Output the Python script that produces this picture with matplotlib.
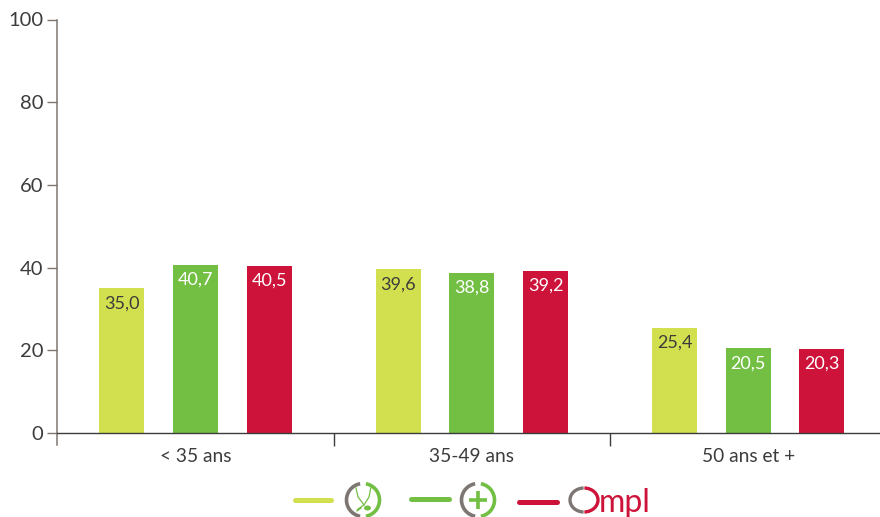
import numpy as np
import matplotlib
matplotlib.use('Agg')
import matplotlib.pyplot as plt
from matplotlib.patches import Arc, Ellipse

plt.rcParams['font.family'] = ['Lato', 'DejaVu Sans']

categories = ['< 35 ans', '35-49 ans', '50 ans et +']
series_1 = [35.0, 39.6, 25.4]
series_2 = [40.7, 38.8, 20.5]
series_3 = [40.5, 39.2, 20.3]
yticks = [0, 20, 40, 60, 80, 100]

LIME = '#d2df4e'
GREEN = '#72bf44'
RED = '#cd1339'
GREY = '#7d7672'
DARK = '#3c3c3b'

W, H = 880, 517
fig = plt.figure(figsize=(W / 100, H / 100), dpi=100)

# axes box in pixels: left 57.4, right 886.4, top 19.5, bottom 445.5
ax = fig.add_axes([57.4 / W, 1 - 445.5 / H, 829 / W, 426 / H])
ax.set_xlim(0, 3)
ax.set_ylim(-3, 100)

x = np.arange(3) + .5
offset = .2665
width = .163
bars = [(series_1, LIME, DARK), (series_2, GREEN, 'white'), (series_3, RED, 'white')]
for i, (vals, col, txt) in enumerate(bars):
    xi = x + (i - 1) * offset
    ax.bar(xi, vals, width, color=col, zorder=1)
    for a, v in zip(xi, vals):
        ax.annotate(f'{v:.1f}'.replace('.', ','), (a, v), xytext=(0, -5),
                    textcoords='offset points', ha='center', va='top',
                    fontsize=13, color=txt, zorder=3)

for s in ['top', 'right']:
    ax.spines[s].set_visible(False)
ax.spines['left'].set_color(GREY)
ax.spines['left'].set_linewidth(1.1)
ax.spines['bottom'].set_position(('data', 0))
ax.spines['bottom'].set_color(DARK)
ax.spines['bottom'].set_linewidth(1)
ax.spines['bottom'].set_zorder(4)

ax.set_yticks(yticks)
ax.tick_params(axis='y', length=7, width=1, color=GREY, labelsize=14.5, labelcolor=DARK, pad=3)

# separators between the groups hang under the zero line
ax.set_xticks([1, 2])
ax.set_xticklabels([])
ax.tick_params(axis='x', length=9, width=1, color=DARK)
ax.set_xticks(x, minor=True)
ax.set_xticklabels(categories, minor=True)
ax.tick_params(axis='x', which='minor', length=0, labelsize=13.8, labelcolor=DARK, pad=11)

# legend is made of logos, drawn in pixel coordinates
lg = fig.add_axes([0, 0, 1, 1])
lg.set_xlim(0, W)
lg.set_ylim(H, 0)
lg.axis('off')
lg.patch.set_alpha(0)

for x0, x1, y, col in [(295, 331, 499.5, LIME), (411, 449, 499, GREEN), (519, 557, 502, RED)]:
    lg.plot([x0, x1], [y, y], color=col, lw=3.6, solid_capstyle='round')


def ring(cx, cy, rx=16.5, ry=16.5):
    # matplotlib angles run clockwise here since y is flipped
    lg.add_patch(Arc((cx, cy), 2 * rx, 2 * ry, theta1=100, theta2=260, color=GREY, lw=2.6))
    lg.add_patch(Arc((cx, cy), 2 * rx, 2 * ry, theta1=-80, theta2=80, color=GREEN, lw=2.6))


# stethoscope logo
ring(363, 500)
lg.plot([356, 358, 364, 369, 371], [488, 497, 505, 497, 487], color=GREEN, lw=.9)
lg.plot([364, 358, 357, 361], [505, 509, 511, 508], color=GREEN, lw=.9)
lg.add_patch(Ellipse((367.5, 508), 7, 5, color=GREEN, lw=0))

# plus logo
ring(478, 500)
lg.plot([469, 487], [500, 500], color=GREEN, lw=2.6, solid_capstyle='butt')
lg.plot([478, 478], [491, 509], color=GREEN, lw=2.6, solid_capstyle='butt')

# Ompl logo
lg.add_patch(Arc((584, 500), 28, 24, theta1=92, theta2=268, color=GREY, lw=2.4))
lg.add_patch(Arc((584, 500), 28, 24, theta1=-88, theta2=88, color=RED, lw=2.4))
lg.text(599, 512, 'mpl', color=RED, fontsize=23, ha='left', va='baseline')

fig.savefig('out.png', dpi=100)
